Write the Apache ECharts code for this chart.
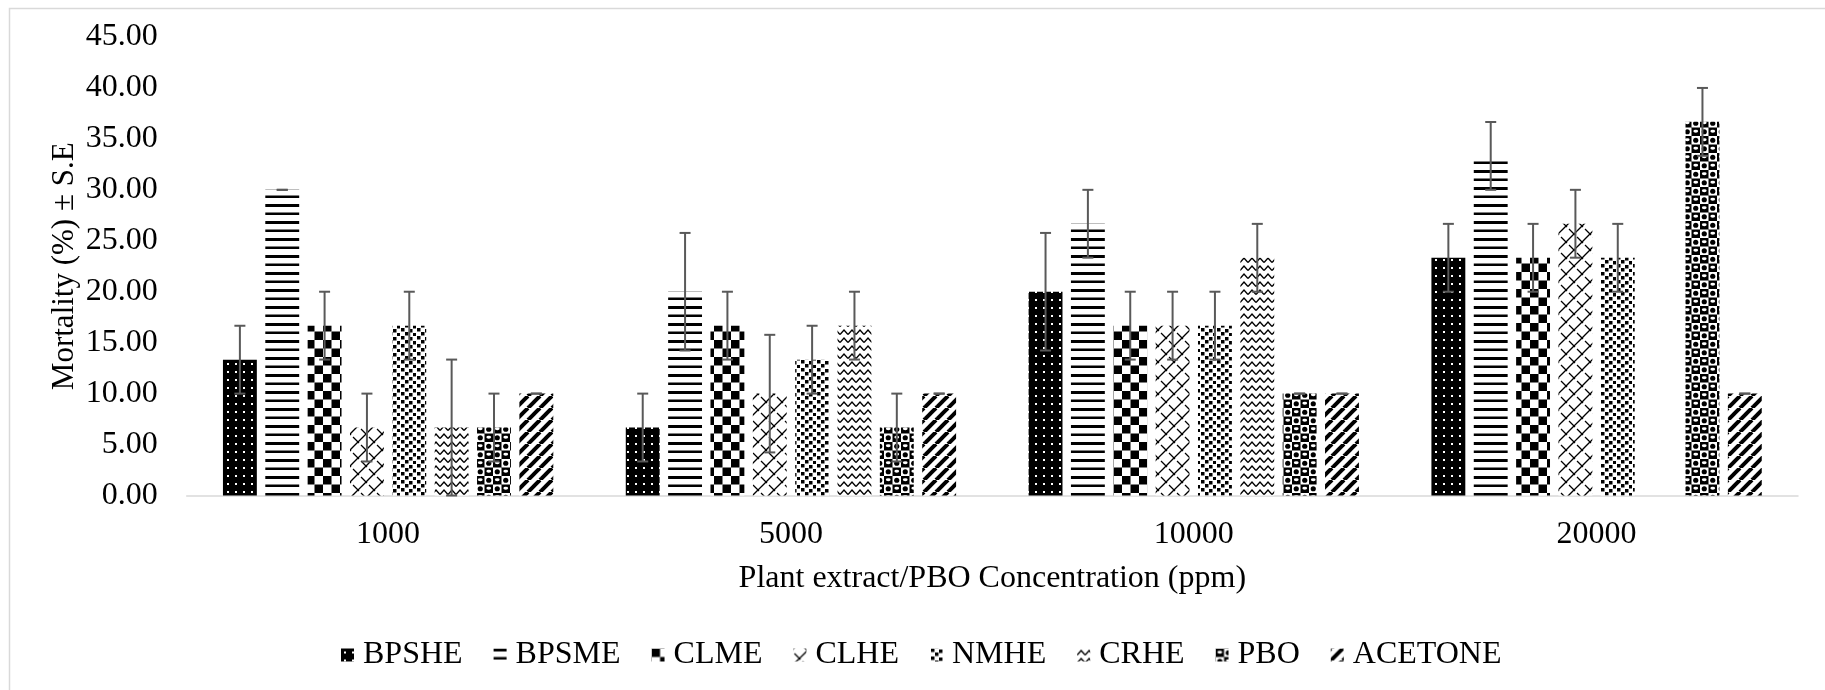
<!DOCTYPE html>
<html>
<head>
<meta charset="utf-8">
<script src="https://cdn.jsdelivr.net/npm/echarts@6/dist/echarts.min.js"></script>
<style>html,body{margin:0;padding:0;background:#fff;}#c{width:1825px;height:690px;}</style>
</head>
<body>
<div id="c"></div>
<script>
// ---- data ----
const categories = ['1000', '5000', '10000', '20000'];
const seriesNames = ['BPSHE', 'BPSME', 'CLME', 'CLHE', 'NMHE', 'CRHE', 'PBO', 'ACETONE'];
const BPSHE   = [13.33, 6.67, 20.00, 23.33];
const BPSME   = [30.00, 20.00, 26.67, 33.33];
const CLME    = [16.67, 16.67, 16.67, 23.33];
const CLHE    = [6.67, 10.00, 16.67, 26.67];
const NMHE    = [16.67, 13.33, 16.67, 23.33];
const CRHE    = [6.67, 16.67, 23.33, 0];
const PBO     = [6.67, 6.67, 10.00, 36.67];
const ACETONE = [10.00, 10.00, 10.00, 10.00];
const BPSHE_SE   = [3.33, 3.33, 5.77, 3.33];
const BPSME_SE   = [0, 5.77, 3.33, 3.33];
const CLME_SE    = [3.33, 3.33, 3.33, 3.33];
const CLHE_SE    = [3.33, 5.77, 3.33, 3.33];
const NMHE_SE    = [3.33, 3.33, 3.33, 3.33];
const CRHE_SE    = [6.67, 3.33, 3.33, 0];
const PBO_SE     = [3.33, 3.33, 0, 3.33];
const ACETONE_SE = [0, 0, 0, 0];
const yTicks = { min: 0, max: 45, interval: 5 };

const means = [BPSHE, BPSME, CLME, CLHE, NMHE, CRHE, PBO, ACETONE];
const ses = [BPSHE_SE, BPSME_SE, CLME_SE, CLHE_SE, NMHE_SE, CRHE_SE, PBO_SE, ACETONE_SE];

// ---- patterns ----
function mk(w, h, draw) {
  const c = document.createElement('canvas');
  c.width = w; c.height = h;
  const x = c.getContext('2d');
  x.fillStyle = '#fff'; x.fillRect(0, 0, w, h);
  x.fillStyle = '#000'; x.strokeStyle = '#000';
  draw(x, w, h);
  return { image: c, repeat: 'repeat' };
}
const patterns = [
  // dotted: black with white dots
  mk(16, 16, (x) => {
    x.fillRect(0, 0, 16, 16); x.fillStyle = '#fff';
    [[3, 3], [11, 3], [3, 11], [11, 11]].forEach(p => x.fillRect(p[0], p[1], 2, 2));
  }),
  // horizontal stripes
  mk(4, 17, (x) => { x.fillRect(0, 0, 4, 3); x.fillRect(0, 8.5, 4, 2.5); }),
  // checkerboard
  mk(17, 17, (x) => { x.fillRect(0, 0, 8.5, 8.5); x.fillRect(8.5, 8.5, 8.5, 8.5); }),
  // shingle / trellis
  mk(16, 16, (x) => {
    x.lineWidth = 1.3;
    x.beginPath(); x.moveTo(0, 16); x.lineTo(16, 0); x.stroke();
    x.beginPath(); x.moveTo(-8, 8); x.lineTo(8, -8); x.stroke();
    x.beginPath(); x.moveTo(8, 24); x.lineTo(24, 8); x.stroke();
    x.beginPath(); x.moveTo(1, 5); x.lineTo(7, 11); x.stroke();
    x.beginPath(); x.moveTo(9, 13); x.lineTo(15, 19); x.stroke();
    x.beginPath(); x.moveTo(9, -3); x.lineTo(15, 3); x.stroke();
  }),
  // confetti
  mk(16, 16, (x) => {
    [[1, 0], [9, 1], [5, 4], [13, 5], [1, 8], [9, 9], [5, 12], [13, 13]].forEach(p => x.fillRect(p[0], p[1], 3.5, 3.5));
  }),
  // zigzag
  mk(8, 8, (x) => {
    x.lineWidth = 1.4;
    x.beginPath(); x.moveTo(0, 6.5); x.lineTo(4, 2); x.lineTo(8, 6.5); x.stroke();
  }),
  // sphere
  mk(17, 17, (x) => {
    x.fillRect(0, 0, 17, 17);
    x.fillStyle = '#fff';
    [[4.25, 12.75], [12.75, 4.25]].forEach(p => { x.fillRect(p[0] - 4.25, p[1] - 4.25, 8.5, 8.5); });
    x.fillStyle = '#000';
    [[4.25, 12.75], [12.75, 4.25]].forEach(p => { x.beginPath(); x.arc(p[0], p[1], 2.6, 0, Math.PI * 2); x.fill(); });
    x.fillStyle = '#fff';
    [[4.25, 4.25], [12.75, 12.75]].forEach(p => { x.beginPath(); x.ellipse(p[0], p[1] - 0.5, 2.4, 1.4, 0, 0, Math.PI * 2); x.fill(); });
  }),
  // wide upward diagonal
  mk(12, 12, (x) => {
    x.lineWidth = 4;
    for (let k = -1; k <= 1; k++) { x.beginPath(); x.moveTo(k * 12, 12); x.lineTo(k * 12 + 12, 0); x.stroke(); }
  })
];

const FONT = "'Liberation Serif', 'Times New Roman', serif";
const N = seriesNames.length;
const CAT_GAP = 0.18, BAR_GAP = 0.25;

const barSeries = seriesNames.map((nm, i) => ({
  name: nm,
  type: 'bar',
  data: means[i],
  barGap: '25%',
  barCategoryGap: '18%',
  itemStyle: { color: patterns[i] },
  emphasis: { disabled: true },
  z: 2
}));

const errData = [];
seriesNames.forEach((nm, i) => {
  categories.forEach((c, j) => {
    if (means[i][j] > 0) errData.push([j, i, means[i][j] - ses[i][j], means[i][j] + ses[i][j]]);
  });
});

const errSeries = {
  type: 'custom',
  name: 'err',
  data: errData,
  encode: { x: 0, y: [2, 3] },
  z: 10,
  silent: true,
  renderItem: (params, api) => {
    const cat = api.value(0), si = api.value(1), lo = api.value(2), hi = api.value(3);
    const band = api.size([1, 0])[0];
    const total = band * (1 - CAT_GAP);
    const bw = total / (N + (N - 1) * BAR_GAP);
    const base = api.coord([cat, 0]);
    const xc = base[0] - total / 2 + si * bw * (1 + BAR_GAP) + bw / 2;
    const yT = api.coord([cat, hi])[1], yB = api.coord([cat, lo])[1];
    const st = { stroke: '#595959', lineWidth: 2 };
    const cap = 5.5;
    return {
      type: 'group',
      children: [
        { type: 'line', shape: { x1: xc, y1: yT, x2: xc, y2: yB }, style: st },
        { type: 'line', shape: { x1: xc - cap, y1: yT, x2: xc + cap, y2: yT }, style: st },
        { type: 'line', shape: { x1: xc - cap, y1: yB, x2: xc + cap, y2: yB }, style: st }
      ]
    };
  }
};

const chart = echarts.init(document.getElementById('c'), null, { renderer: 'canvas' });
chart.setOption({
  animation: false,
  backgroundColor: '#fff',
  textStyle: { fontFamily: FONT, color: '#000' },
  graphic: [{
    type: 'rect', left: 7, top: 6, shape: { width: 1817, height: 700 },
    style: { fill: 'none', stroke: '#d9d9d9', lineWidth: 1.5 }, silent: true
  }],
  grid: { left: 186.7, right: 27, top: 37, bottom: 194.5, containLabel: false },
  legend: {
    data: seriesNames,
    left: 336, top: 634,
    icon: 'rect', itemWidth: 13, itemHeight: 13, itemGap: 31,
    textStyle: { fontFamily: FONT, fontSize: 32, color: '#000', padding: [0, 0, 0, 4] },
    selectedMode: false
  },
  xAxis: {
    type: 'category',
    data: categories,
    name: 'Plant extract/PBO Concentration (ppm)',
    nameLocation: 'middle',
    nameGap: 67.5,
    nameMoveOverlap: false,
    nameTextStyle: { fontFamily: FONT, fontSize: 32, color: '#000' },
    axisLine: { lineStyle: { color: '#d9d9d9', width: 1.5 } },
    axisTick: { show: false },
    axisLabel: { fontFamily: FONT, fontSize: 32, color: '#000', margin: 23 }
  },
  yAxis: {
    type: 'value',
    min: yTicks.min, max: yTicks.max, interval: yTicks.interval,
    name: 'Mortality (%) ± S.E',
    nameLocation: 'middle',
    nameGap: 106,
    nameMoveOverlap: false,
    nameTextStyle: { fontFamily: FONT, fontSize: 31, color: '#000' },
    axisLine: { show: false },
    axisTick: { show: false },
    splitLine: { show: false },
    axisLabel: { fontFamily: FONT, fontSize: 32, color: '#000', margin: 29, formatter: v => v.toFixed(2) }
  },
  series: [...barSeries, errSeries]
});
</script>
</body>
</html>
